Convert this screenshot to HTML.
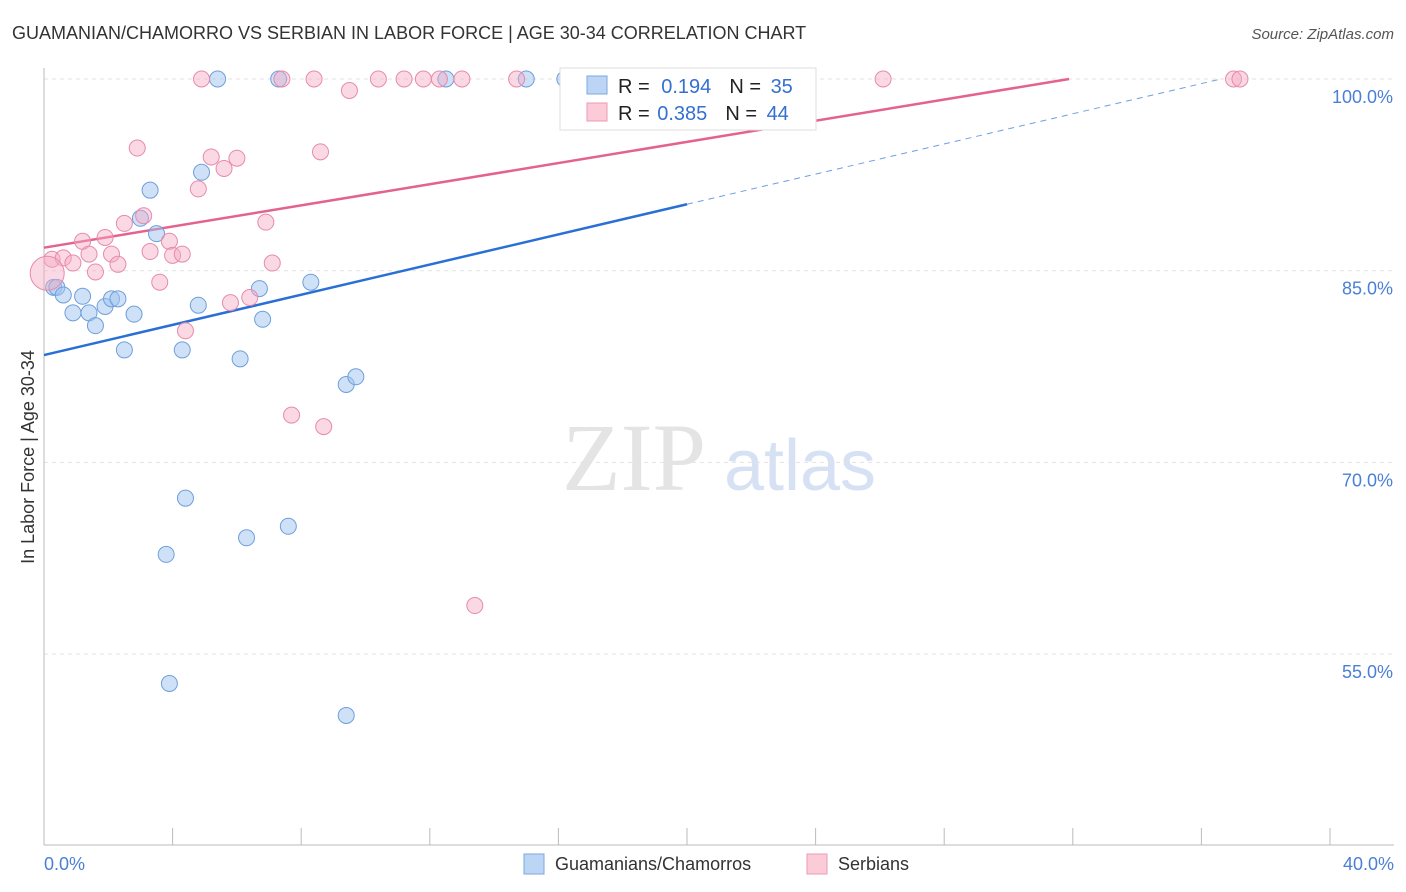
<!DOCTYPE html>
<html><head><meta charset="utf-8"><style>
body{margin:0;background:#fff;font-family:"Liberation Sans",sans-serif;}
svg{display:block}
</style></head><body>
<svg id="chart" width="1406" height="892">
<text x="12" y="39" font-size="18" fill="#333">GUAMANIAN/CHAMORRO VS SERBIAN IN LABOR FORCE | AGE 30-34 CORRELATION CHART</text>
<text x="1394" y="39" font-size="15" fill="#555" font-style="italic" text-anchor="end">Source: ZipAtlas.com</text>
<text x="634" y="490" font-size="96" fill="#e4e4e4" font-family="Liberation Serif" text-anchor="middle">ZIP</text>
<text x="800" y="490" font-size="72" fill="#d6e2f4" text-anchor="middle">atlas</text>
<text transform="translate(34,457) rotate(-90)" font-size="18" fill="#333" text-anchor="middle">In Labor Force | Age 30-34</text>
<g id="grid"></g><g id="lines"></g><g id="pts"></g>
<g>
<rect x="560" y="68" width="256" height="62" fill="#fff" stroke="#ddd"/>
<rect x="587" y="76" width="20" height="18" fill="#bcd5f5" stroke="#7aa8e0"/>
<rect x="587" y="103" width="20" height="18" fill="#fbcbd8" stroke="#eb9ab4"/>
<text x="618" y="93" font-size="20" fill="#222">R = <tspan fill="#3470d0" dx="6">0.194</tspan><tspan dx="18" fill="#222">N = </tspan><tspan fill="#3470d0" dx="4">35</tspan></text>
<text x="618" y="120" font-size="20" fill="#222">R = <tspan fill="#3470d0" dx="2">0.385</tspan><tspan dx="18" fill="#222">N = </tspan><tspan fill="#3470d0" dx="4">44</tspan></text>
</g>
<g>
<rect x="524" y="854" width="20" height="20" fill="#bcd5f5" stroke="#7aa8e0"/>
<text x="555" y="870" font-size="18" fill="#333">Guamanians/Chamorros</text>
<rect x="807" y="854" width="20" height="20" fill="#fbcbd8" stroke="#eb9ab4"/>
<text x="838" y="870" font-size="18" fill="#333">Serbians</text>
</g>
</svg>
<script>
const blueX=[5.4,7.3,12.5,15.0,16.2,0.3,0.4,0.6,0.9,1.2,1.4,1.6,1.9,2.1,2.3,2.8,2.5,3.3,3.0,3.5,4.9,4.8,4.3,6.1,6.7,6.8,8.3,9.4,9.7,4.4,3.8,6.3,7.6,3.9,9.4];
const blueY=[100,100,100,100,100,83.7,83.7,83.1,81.7,83.0,81.7,80.7,82.2,82.8,82.8,81.6,78.8,91.3,89.1,87.9,92.7,82.3,78.8,78.1,83.6,81.2,84.1,76.1,76.7,67.2,62.8,64.1,65.0,52.7,50.2];
const pinkX=[4.9,7.4,8.4,10.4,11.2,11.8,12.3,13.0,14.7,26.1,37.0,37.2,9.5,2.9,5.2,6.0,5.6,8.6,4.8,3.1,2.5,6.9,0.25,0.6,0.9,1.2,1.4,1.9,2.1,2.3,1.6,3.3,3.9,4.0,4.3,3.6,7.1,5.8,6.4,4.4,7.7,8.7,13.4,0.1];
const pinkY=[100,100,100,100,100,100,100,100,100,100,100,100,99.1,94.6,93.9,93.8,93.0,94.3,91.4,89.3,88.7,88.8,85.9,86.0,85.6,87.3,86.3,87.6,86.3,85.5,84.9,86.5,87.3,86.2,86.3,84.1,85.6,82.5,82.9,80.3,73.7,72.8,58.8,84.8];
const sizes=Array(44).fill(8);sizes[43]=17;
const yTicks=[100,85,70,55];
const ns="http://www.w3.org/2000/svg";
const X=v=>44+v*32.15, Y=v=>79+(100-v)*12.78;
function mk(t,a,p){const e=document.createElementNS(ns,t);for(const k in a)e.setAttribute(k,a[k]);p.appendChild(e);return e;}
const grid=document.getElementById('grid'),lines=document.getElementById('lines'),pts=document.getElementById('pts');
yTicks.forEach(t=>{const l=mk('line',{x1:44,x2:1394,y1:Y(t),y2:Y(t),stroke:'#e2e2e2','stroke-dasharray':'4,4'},grid);


const tx=mk('text',{x:1393,y:Y(t)+24,'font-size':18,fill:'#4a7fd6','text-anchor':'end'},grid);tx.textContent=t.toFixed(1)+'%';

});
const ax=mk('line',{x1:44,x2:44,y1:68,y2:845,stroke:'#bbb'},grid);


const bx=mk('line',{x1:44,x2:1394,y1:845,y2:845,stroke:'#bbb'},grid);


for(let i=0;i<=10;i++){const t=mk('line',{x1:X(i*4),x2:X(i*4),y1:828,y2:845,stroke:'#bbb'},grid);

}
[[0,'0.0%','start',44],[40,'40.0%','end',1394]].forEach(d=>{const t=mk('text',{x:d[3],y:870,'font-size':18,fill:'#4a7fd6','text-anchor':d[2]},grid);t.textContent=d[1];

});
const blueFit=[78.4,0.59], pinkFit=[86.8,0.414];
const bEnd=(100-blueFit[0])/blueFit[1];
const l1=mk('line',{x1:X(0),y1:Y(blueFit[0]),x2:X(20),y2:Y(blueFit[0]+20*blueFit[1]),stroke:'#2a6fd6','stroke-width':2.5},lines);


const l2=mk('line',{x1:X(20),y1:Y(blueFit[0]+20*blueFit[1]),x2:X(bEnd),y2:Y(100),stroke:'#6e9fdc','stroke-width':1,'stroke-dasharray':'6,5'},lines);


const pEnd=(100-pinkFit[0])/pinkFit[1];
const l3=mk('line',{x1:X(0),y1:Y(pinkFit[0]),x2:X(pEnd),y2:Y(100),stroke:'#e4628f','stroke-width':2.5},lines);


blueX.forEach((x,i)=>{const c=mk('circle',{cx:X(x),cy:Y(blueY[i]),r:8,fill:'rgba(160,196,240,0.5)',stroke:'#6e9fdc','stroke-width':1},pts);

});
pinkX.forEach((x,i)=>{const c=mk('circle',{cx:X(x),cy:Y(pinkY[i]),r:sizes[i],fill:'rgba(245,170,195,0.45)',stroke:'#e88aab','stroke-width':1},pts);

});
</script>
</body></html>
